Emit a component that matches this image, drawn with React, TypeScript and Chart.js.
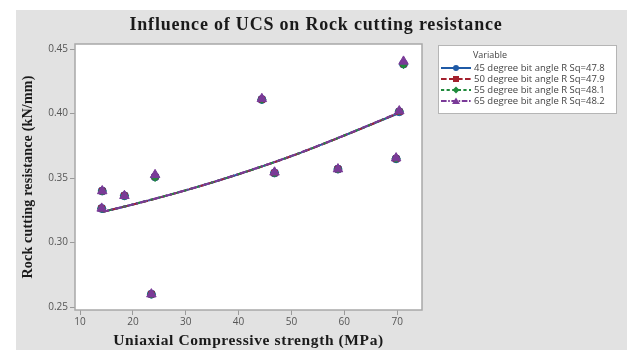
import React, { useEffect, useRef } from "react";
import { Chart, registerables } from "chart.js";
Chart.register(...registerables);

const chartTitle = "Influence of UCS on Rock cutting resistance";
const xTitle = "Uniaxial Compressive strength (MPa)";
const yTitle = "Rock cutting resistance (kN/mm)";
const legendHeader = "Variable";

const xTicks = [10, 20, 30, 40, 50, 60, 70];
const yTicks = [0.25, 0.3, 0.35, 0.4, 0.45];

const ucs = [14.2, 14.1, 18.4, 24.2, 23.5, 44.4, 46.8, 58.8, 69.8, 70.4, 71.2];
const res45 = [0.34, 0.3265, 0.3363, 0.351, 0.26, 0.411, 0.354, 0.357, 0.365, 0.4015, 0.4385];
const res50 = [0.34, 0.3265, 0.3363, 0.351, 0.26, 0.411, 0.354, 0.357, 0.365, 0.4015, 0.4385];
const res55 = [0.34, 0.3265, 0.3363, 0.3505, 0.26, 0.411, 0.354, 0.357, 0.365, 0.402, 0.438];
const res65 = [0.34, 0.3265, 0.3363, 0.3525, 0.26, 0.4115, 0.3545, 0.357, 0.3655, 0.402, 0.4405];

const fitX = [14.2, 20, 30, 40, 50, 60, 70.4];
const fit45 = [0.3237, 0.3295, 0.3405, 0.353, 0.367, 0.383, 0.4005];
const fit50 = [0.3237, 0.3295, 0.3405, 0.353, 0.367, 0.383, 0.4007];
const fit55 = [0.3238, 0.3296, 0.3406, 0.3531, 0.3671, 0.3831, 0.4008];
const fit65 = [0.3238, 0.3296, 0.3406, 0.3532, 0.3672, 0.3832, 0.401];

const seriesNames = [
  "45 degree bit angle R Sq=47.8",
  "50 degree bit angle R Sq=47.9",
  "55 degree bit angle R Sq=48.1",
  "65 degree bit angle R Sq=48.2",
];
const seriesColors = ["#1f5aa6", "#a3202e", "#1f8a3c", "#7a3a98"];
const seriesMarkers = ["circle", "rect", "rectRot", "triangle"];
const seriesDash = [[], [7, 3], [4, 3], [7, 2, 2, 2]];

const pts = (xs: number[], ys: number[]) => xs.map((x, i) => ({ x, y: ys[i] }));

export default function App() {
  const ref = useRef<HTMLCanvasElement | null>(null);
  useEffect(() => {
    document.body.style.margin = "0";
    const resData = [res45, res50, res55, res65];
    const fitData = [fit45, fit50, fit55, fit65];
    const scatterSets = resData.map((r, i) => ({
      label: seriesNames[i],
      data: pts(ucs, r),
      showLine: false,
      pointStyle: seriesMarkers[i],
      pointRadius: i === 3 ? 5.5 : 4,
      backgroundColor: seriesColors[i],
      borderColor: seriesColors[i],
      borderWidth: 1,
      order: 10 - i * 2,
    }));
    const lineSets = fitData.map((f, i) => ({
      label: seriesNames[i] + " fit",
      data: pts(fitX, f),
      showLine: true,
      pointRadius: 0,
      borderColor: seriesColors[i],
      borderWidth: 2,
      borderDash: seriesDash[i],
      cubicInterpolationMode: "monotone",
      order: 20 - i * 2,
    }));

    const bgPlugin = {
      id: "bg",
      beforeDraw(chart: any) {
        const { ctx, chartArea: a } = chart;
        ctx.save();
        ctx.fillStyle = "#ffffff";
        ctx.fillRect(0, 0, 627, 350);
        ctx.fillStyle = "#e2e2e2";
        ctx.fillRect(16, 10, 627 - 16, 350 - 10);
        ctx.fillStyle = "#ffffff";
        ctx.fillRect(a.left, a.top, a.right - a.left, a.bottom - a.top);
        ctx.restore();
      },
      afterDraw(chart: any) {
        const { ctx, chartArea: a } = chart;
        ctx.save();
        ctx.strokeStyle = "#a8a8a8";
        ctx.lineWidth = 1.5;
        ctx.strokeRect(a.left, a.top, a.right - a.left, a.bottom - a.top);
        // title
        ctx.fillStyle = "#1a1a1a";
        ctx.font = "bold 18px 'Liberation Serif'";
        ctx.textAlign = "center";
        ctx.textBaseline = "middle";
        (ctx as any).letterSpacing = "0.8px";
        ctx.fillText(chartTitle, 316, 25);
        // x title
        ctx.font = "bold 15.5px 'Liberation Serif'";
        (ctx as any).letterSpacing = "0.6px";
        ctx.fillText(xTitle, (a.left + a.right) / 2, 341);
        // y title
        ctx.save();
        ctx.translate(28, (a.top + a.bottom) / 2);
        ctx.rotate(-Math.PI / 2);
        ctx.font = "bold 14px 'Liberation Serif'";
        (ctx as any).letterSpacing = "0.2px";
        ctx.fillText(yTitle, 0, 0);
        ctx.restore();
        (ctx as any).letterSpacing = "0px";
        // legend
        const lx = 438, ly = 45, lw = 178, lh = 68;
        ctx.fillStyle = "#ffffff";
        ctx.fillRect(lx, ly, lw, lh);
        ctx.strokeStyle = "#b5b5b5";
        ctx.lineWidth = 1;
        ctx.strokeRect(lx + 0.5, ly + 0.5, lw, lh);
        ctx.textAlign = "left";
        ctx.fillStyle = "#444";
        ctx.font = "9px 'Open Sans'";
        ctx.fillText(legendHeader, 473, 55);
        const rows = [68, 79, 90, 101];
        rows.forEach((ry, i) => {
          ctx.strokeStyle = seriesColors[i];
          ctx.lineWidth = 2;
          ctx.setLineDash(seriesDash[i].map((d) => d * 0.8));
          ctx.beginPath();
          ctx.moveTo(441, ry);
          ctx.lineTo(471, ry);
          ctx.stroke();
          ctx.setLineDash([]);
          ctx.fillStyle = seriesColors[i];
          ctx.beginPath();
          const cx = 456;
          if (i === 0) ctx.arc(cx, ry, 3, 0, Math.PI * 2);
          else if (i === 1) ctx.rect(cx - 3, ry - 3, 6, 6);
          else if (i === 2) { ctx.moveTo(cx, ry - 3.5); ctx.lineTo(cx + 3.5, ry); ctx.lineTo(cx, ry + 3.5); ctx.lineTo(cx - 3.5, ry); ctx.closePath(); }
          else { ctx.moveTo(cx, ry - 3.5); ctx.lineTo(cx + 4, ry + 3); ctx.lineTo(cx - 4, ry + 3); ctx.closePath(); }
          ctx.fill();
          ctx.fillStyle = "#444";
          ctx.font = "9.5px 'Open Sans'";
          ctx.fillText(seriesNames[i], 474, ry);
        });
        ctx.restore();
      },
    };

    const chart = new Chart(ref.current as HTMLCanvasElement, {
      type: "scatter",
      data: { datasets: [...scatterSets, ...lineSets] as any },
      options: {
        responsive: false,
        animation: false,
        layout: { padding: { top: 44, right: 205, left: 0, bottom: 0 } },
        plugins: { legend: { display: false }, tooltip: { enabled: false }, title: { display: false } },
        scales: {
          x: {
            type: "linear",
            min: 9.05,
            max: 74.7,
            afterFit: (s: any) => { s.height = 40; },
            afterBuildTicks: (s: any) => { s.ticks = xTicks.map((v) => ({ value: v })); },
            grid: { drawOnChartArea: false, drawTicks: true, tickLength: 5, color: "#9a9a9a" },
            border: { display: false },
            ticks: { padding: 1, color: "#555", font: { family: "'Open Sans'", size: 10 }, callback: (v: any) => String(v) },
          },
          y: {
            type: "linear",
            min: 0.2477,
            max: 0.454,
            afterFit: (s: any) => { s.width = 75; },
            afterBuildTicks: (s: any) => { s.ticks = yTicks.map((v) => ({ value: v })); },
            grid: { drawOnChartArea: false, drawTicks: true, tickLength: 5, color: "#9a9a9a" },
            border: { display: false },
            ticks: { padding: 2, color: "#555", font: { family: "'Open Sans'", size: 10 }, callback: (v: any) => Number(v).toFixed(2) },
          },
        },
      },
      plugins: [bgPlugin],
    });
    return () => chart.destroy();
  }, []);
  return (
    <div style={{ position: "absolute", left: 0, top: 0, width: 627, height: 350 }}>
      <canvas ref={ref} width={627} height={350} />
    </div>
  );
}
